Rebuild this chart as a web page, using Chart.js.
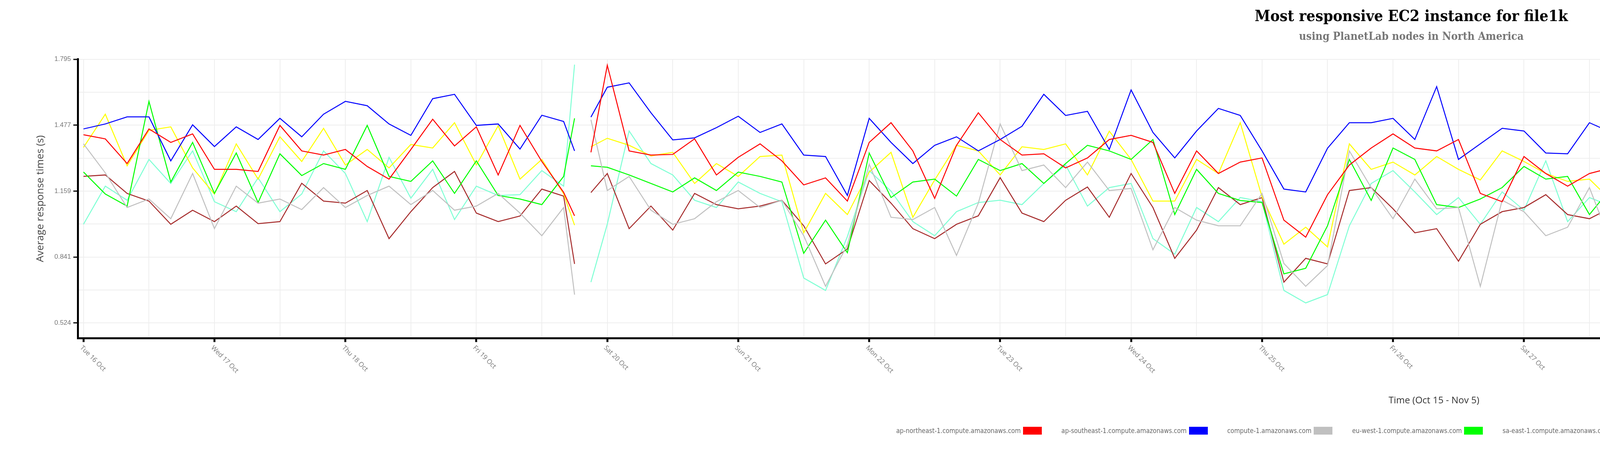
<!DOCTYPE html>
<html lang="en">
<head>
  <meta charset="UTF-8">
  <title>Most responsive EC2 instance for file1k</title>
  <script src="https://cdn.jsdelivr.net/npm/chart.js"></script>
  <style>
    body { margin: 0; background: #fff; }
    .wrap { position: relative; width: 7238px; height: 1200px; }
    #chart { width: 7238px; height: 1200px; }
    #legend {
      position: absolute; left: 0; top: 1092px; width: 7238px;
      display: flex; justify-content: center; gap: 50px;
      font-family: 'DejaVu Sans Condensed', 'DejaVu Sans', sans-serif; font-size: 17px; color: #666;
    }
    #legend .item { display: flex; align-items: center; gap: 6px; }
    #legend .box { width: 48px; height: 20px; display: inline-block; }
  </style>
</head>
<body>
  <div class="wrap">
    <canvas id="chart" width="7238" height="1200"></canvas>
    <div id="legend"></div>
  </div>
  <script>
    // hours since Tue 16 Oct 00:00 (4 hour samples, gap near Oct 19 evening)
    const hours = [0,4,8,12,16,20,24,28,32,36,40,44,48,52,56,60,64,68,72,76,80,84,88,90,91.5,93,
      96,100,104,108,112,116,120,124,128,132,136,140,144,148,152,156,160,164,168,172,176,180,184,188,
      192,196,200,204,208,212,216,220,224,228,232,236,240,244,248,252,256,260,264,268,272,276,280,284,
      288,292,296,300,304,308,312,316,320,324,328,332,336,340,344,348,352,356,360,364,368,372,376,380,
      384,388,392,396,400,404,408,412,416,420,424,428,432,436,440,444,448,452,456,460,464,468,472,476,
      480,484,488,492,496];

    const dayLabels = ['Tue 16 Oct','Wed 17 Oct','Thu 18 Oct','Fri 19 Oct','Sat 20 Oct','Sun 21 Oct','Mon 22 Oct',
      'Tue 23 Oct','Wed 24 Oct','Thu 25 Oct','Fri 26 Oct','Sat 27 Oct','Sun 28 Oct','Mon 29 Oct','Tue 30 Oct',
      'Wed 31 Oct','Thu 01 Nov','Fri 02 Nov','Sat 03 Nov','Sun 04 Nov','Mon 05 Nov'];

    const yTicks = [0.524, 0.683, 0.841, 1.000, 1.159, 1.318, 1.477, 1.636, 1.795];
    const yMajor = [0.524, 0.841, 1.159, 1.477, 1.795];

    const seriesNames = ['ap-northeast-1.compute.amazonaws.com','ap-southeast-1.compute.amazonaws.com',
      'compute-1.amazonaws.com','eu-west-1.compute.amazonaws.com','sa-east-1.compute.amazonaws.com',
      'us-west-1.compute.amazonaws.com','us-west-2.compute.amazonaws.com'];
    const seriesColors = ['#ff0000','#0000ff','#c0c0c0','#00ff00','#ffff00','#a52a2a','#7fffd4'];

    const apNortheast = [1.431,1.411,1.292,1.459,1.394,1.435,1.264,1.264,1.254,1.476,1.353,1.333,1.360,1.278,1.217,1.360,1.506,1.377,1.469,
      1.237,1.476,1.302,1.153,1.040,null,1.346,1.766,1.353,1.333,1.336,1.411,1.237,1.322,1.387,1.305,1.189,1.223,1.111,
      1.394,1.489,1.353,1.124,1.380,1.537,1.408,1.333,1.339,1.271,1.319,1.408,1.428,1.394,1.148,1.353,1.244,1.299,
      1.319,1.019,0.937,1.142,1.285,1.367,1.435,1.367,1.353,1.408,1.148,1.108,1.326,1.244,1.183,1.244,1.271,0.896,
      0.842,0.978,0.944,0.944,1.012,1.121,1.380,1.258,1.312,1.285,1.237,1.190,1.223,1.278,1.217,1.251,1.223,1.408,
      1.408,1.387,1.292,1.517,1.401,1.455,1.510,1.496,1.312,1.271,1.449,1.530,1.302,1.667,1.148,1.346,1.523,1.264,
      1.414,1.428,1.285,1.148,1.026,1.046,0.930,1.040,1.033,0.924,1.012,1.046,1.128,1.244,1.285,1.489,1.326];
    const apSoutheast = [1.459,1.483,1.517,1.517,1.305,1.479,1.374,1.469,1.408,1.510,1.421,1.530,1.592,1.571,1.483,1.428,1.605,1.626,1.476,
      1.483,1.362,1.525,1.495,1.353,null,1.516,1.660,1.681,1.537,1.406,1.416,1.465,1.520,1.442,1.483,1.333,1.326,1.138,
      1.510,1.394,1.292,1.380,1.421,1.353,1.408,1.472,1.626,1.524,1.544,1.360,1.647,1.442,1.319,1.449,1.558,1.524,
      1.353,1.169,1.155,1.366,1.489,1.489,1.510,1.408,1.663,1.312,1.387,1.462,1.449,1.343,1.339,1.489,1.442,1.101,
      1.128,1.224,1.053,1.353,1.176,1.203,1.414,1.427,1.459,1.701,1.428,1.544,1.408,1.374,1.459,1.353,1.336,1.667,
      1.558,1.605,1.558,1.544,1.503,1.476,1.609,1.472,1.476,1.394,1.452,1.558,1.585,1.667,1.728,1.350,1.496,1.489,
      1.558,1.374,1.346,1.148,1.094,1.196,1.026,1.108,1.046,1.074,1.114,1.148,1.101,1.353,1.305,1.537,1.558];
    const compute1 = [1.387,1.247,1.080,1.121,1.026,1.244,0.978,1.183,1.101,1.121,1.070,1.176,1.080,1.138,1.183,1.094,1.162,1.067,1.087,
      1.148,1.053,0.944,1.080,0.660,null,1.503,1.162,1.230,1.067,0.999,1.026,1.108,1.162,1.080,1.115,0.944,0.700,0.900,
      1.289,1.033,1.022,1.080,0.849,1.101,1.483,1.258,1.285,1.176,1.299,1.162,1.172,0.876,1.080,1.019,0.992,0.992,
      1.148,0.810,0.700,0.800,1.353,1.176,1.026,1.217,1.074,1.080,0.700,1.115,1.060,0.944,0.985,1.176,0.903,0.660,
      0.700,0.720,0.862,0.700,0.876,0.924,0.985,1.046,1.026,1.148,1.189,1.114,0.917,1.053,0.992,0.999,0.992,1.114,
      1.026,1.067,1.271,1.244,1.264,1.237,1.080,1.019,1.057,1.087,1.264,1.138,1.114,0.999,0.876,1.067,1.121,0.903,
      0.985,1.135,1.046,0.876,0.700,0.910,0.965,0.774,0.660,0.700,0.876,0.780,1.012,1.080,1.148,1.080,1.353];
    const euWest = [1.251,1.145,1.087,1.592,1.203,1.394,1.148,1.343,1.104,1.339,1.234,1.292,1.264,1.476,1.230,1.206,1.305,1.148,1.305,
      1.138,1.121,1.094,1.230,1.510,null,1.281,1.274,1.237,1.196,1.155,1.223,1.162,1.251,1.230,1.203,0.859,1.019,0.862,
      1.343,1.128,1.203,1.217,1.135,1.312,1.258,1.292,1.196,1.292,1.380,1.353,1.312,1.408,1.046,1.264,1.148,1.114,
      1.104,0.760,0.787,0.992,1.312,1.114,1.367,1.312,1.094,1.080,1.121,1.176,1.278,1.217,1.230,1.046,1.176,0.883,
      0.876,0.896,0.700,0.808,0.944,0.862,1.271,1.196,1.333,1.305,1.203,1.148,1.251,1.408,1.312,1.449,1.408,1.193,
      1.169,1.128,1.339,1.278,1.223,1.462,1.660,1.326,1.155,1.230,1.449,1.121,1.087,1.053,0.978,1.264,1.387,1.094,
      1.244,1.251,1.285,0.767,0.944,0.794,0.978,0.855,0.720,0.720,1.128,0.855,0.876,1.118,1.087,1.251,1.275];
    const saEast = [1.370,1.530,1.281,1.452,1.469,1.271,1.145,1.387,1.217,1.421,1.302,1.462,1.285,1.360,1.271,1.384,1.367,1.489,1.285,
      1.474,1.217,1.312,1.146,0.995,null,1.373,1.414,1.380,1.329,1.346,1.196,1.292,1.230,1.326,1.333,0.958,1.148,1.046,
      1.251,1.346,1.033,1.213,1.380,1.353,1.237,1.373,1.360,1.387,1.237,1.448,1.312,1.111,1.111,1.312,1.244,1.489,
      1.131,0.903,0.985,0.890,1.387,1.264,1.299,1.237,1.326,1.264,1.213,1.353,1.302,1.244,1.206,1.217,1.114,0.890,
      0.842,0.964,0.964,0.848,0.944,1.012,1.264,1.360,1.367,1.261,1.278,1.244,1.305,1.360,1.166,1.244,1.203,1.278,
      1.312,1.551,1.401,1.367,1.312,1.319,1.278,1.435,1.251,1.312,1.353,1.449,1.312,1.449,1.053,1.360,1.394,1.476,
      1.483,1.302,1.230,0.890,0.910,1.094,1.026,0.903,0.903,0.760,1.203,1.019,0.890,1.183,1.258,1.496,1.558];
    const usWest1 = [1.230,1.237,1.148,1.111,0.999,1.067,1.012,1.087,1.002,1.012,1.197,1.111,1.101,1.162,0.930,1.060,1.176,1.254,1.053,
      1.012,1.039,1.169,1.135,0.808,null,1.152,1.244,0.978,1.087,0.971,1.148,1.094,1.074,1.087,1.115,0.992,0.808,0.880,
      1.210,1.101,0.978,0.930,0.999,1.040,1.224,1.053,1.012,1.115,1.179,1.033,1.244,1.080,0.835,0.971,1.176,1.094,
      1.128,0.720,0.835,0.808,1.162,1.176,1.074,0.958,0.978,0.821,0.999,1.060,1.080,1.142,1.046,1.026,1.080,0.700,
      0.720,0.808,0.821,0.720,0.720,0.740,0.944,1.087,1.094,1.312,1.114,1.067,1.094,1.108,1.094,1.094,0.971,1.176,
      1.125,1.087,1.074,1.101,1.135,1.278,1.121,1.128,1.043,0.985,1.237,1.046,0.992,1.060,0.965,1.087,1.179,1.094,
      1.183,1.121,1.210,0.700,0.808,0.660,0.680,0.808,0.640,0.660,0.876,0.600,0.856,1.080,0.944,1.148,1.012];
    const usWest2 = [0.999,1.183,1.115,1.312,1.196,1.353,1.108,1.060,1.223,1.060,1.145,1.353,1.244,1.012,1.322,1.125,1.264,1.022,1.183,
      1.138,1.142,1.258,1.183,1.769,null,0.720,1.000,1.449,1.292,1.237,1.115,1.080,1.203,1.148,1.108,0.740,0.680,0.940,
      1.258,1.159,1.012,0.944,1.060,1.104,1.115,1.094,1.196,1.285,1.087,1.176,1.196,0.930,0.855,1.080,1.012,1.128,
      1.108,0.680,0.620,0.660,0.992,1.196,1.258,1.155,1.046,1.128,0.999,1.155,1.067,1.305,1.012,1.128,1.087,0.808,
      0.842,0.821,0.862,0.896,0.924,0.890,1.012,1.217,1.148,1.196,1.230,1.148,1.108,1.050,1.012,1.012,1.224,1.050,
      1.271,1.326,1.333,0.985,1.298,1.196,1.121,1.033,1.046,1.108,1.449,1.128,1.060,1.237,1.022,1.121,1.224,1.080,
      1.183,1.108,1.166,1.264,0.720,0.700,1.012,0.924,0.700,0.720,1.050,0.801,1.012,1.148,0.985,1.128,1.230];

    const seriesValues = [apNortheast, apSoutheast, compute1, euWest, saEast, usWest1, usWest2];

    const datasets = seriesNames.map((name, i) => ({
      label: name,
      data: hours.map((h, j) => ({ x: h, y: seriesValues[i][j] })),
      borderColor: seriesColors[i],
      backgroundColor: seriesColors[i],
      borderWidth: 2.5,
      pointRadius: 0,
      tension: 0,
      spanGaps: false,
    }));

    // rotated day labels under the x axis, going down to the right
    const dayLabelPlugin = {
      id: 'dayLabels',
      afterDraw(chart) {
        const ctx = chart.ctx;
        const x = chart.scales.x;
        ctx.save();
        ctx.font = '17px "Open Sans"';
        ctx.fillStyle = '#777';
        ctx.textAlign = 'left';
        ctx.textBaseline = 'middle';
        dayLabels.forEach((lab, i) => {
          const px = x.getPixelForValue(i * 24);
          ctx.save();
          ctx.translate(px - 6, x.top + 22);
          ctx.rotate(Math.PI / 4);
          ctx.fillText(lab, 0, 0);
          ctx.restore();
        });
        ctx.restore();
      }
    };

    new Chart(document.getElementById('chart'), {
      type: 'line',
      data: { datasets },
      plugins: [dayLabelPlugin],
      options: {
        responsive: false,
        devicePixelRatio: 1,
        animation: false,
        layout: { padding: { left: 84, right: 96, top: 0, bottom: 160 } },
        plugins: {
          legend: { display: false },
          tooltip: { enabled: false },
          title: {
            display: true,
            text: 'Most responsive EC2 instance for file1k',
            color: '#000',
            font: { family: "'DejaVu Serif Condensed', 'DejaVu Serif', serif", size: 40, weight: 'bold' },
            padding: { top: 20, bottom: 10 }
          },
          subtitle: {
            display: true,
            text: 'using PlanetLab nodes in North America',
            color: '#777',
            font: { family: "'DejaVu Serif Condensed', 'DejaVu Serif', serif", size: 28, weight: 'bold' },
            padding: { bottom: 40 }
          }
        },
        scales: {
          x: {
            type: 'linear',
            min: -1,
            max: 496,
            border: { color: '#000', width: 5 },
            grid: {
              color: '#eeeeee',
              lineWidth: 2,
              tickLength: 10,
              tickWidth: 5,
              tickColor: (c) => (c.tick && c.tick.value % 24 === 0) ? '#000' : 'rgba(0,0,0,0)'
            },
            afterBuildTicks: (s) => {
              const t = [];
              for (let i = 0; i <= 41; i++) t.push({ value: i * 12 });
              s.ticks = t;
            },
            ticks: { display: false },
            title: {
              display: true,
              text: 'Time (Oct 15 - Nov 5)',
              color: '#333',
              font: { family: "'Open Sans'", size: 24 },
              padding: { top: 136, bottom: 0 }
            }
          },
          y: {
            min: 0.45,
            max: 1.795,
            border: { color: '#000', width: 5 },
            grid: {
              color: '#eeeeee',
              lineWidth: 2,
              tickLength: 12,
              tickWidth: 3,
              tickColor: (c) => (c.tick && yMajor.includes(c.tick.value)) ? '#000' : 'rgba(0,0,0,0)'
            },
            afterBuildTicks: (s) => { s.ticks = yTicks.map(v => ({ value: v })); },
            ticks: {
              color: '#777',
              font: { family: "'Liberation Sans'", size: 17 },
              padding: 6,
              callback: (v) => yMajor.includes(v) ? v.toFixed(3) : ''
            },
            title: {
              display: true,
              text: 'Average response times (s)',
              color: '#444',
              font: { family: "'Open Sans'", size: 26 },
              padding: { bottom: 14 }
            }
          }
        }
      }
    });

    const legend = document.getElementById('legend');
    seriesNames.forEach((name, i) => {
      const item = document.createElement('span');
      item.className = 'item';
      const text = document.createElement('span');
      text.textContent = name;
      const box = document.createElement('span');
      box.className = 'box';
      box.style.background = seriesColors[i];
      item.appendChild(text);
      item.appendChild(box);
      legend.appendChild(item);
    });
  </script>
</body>
</html>
